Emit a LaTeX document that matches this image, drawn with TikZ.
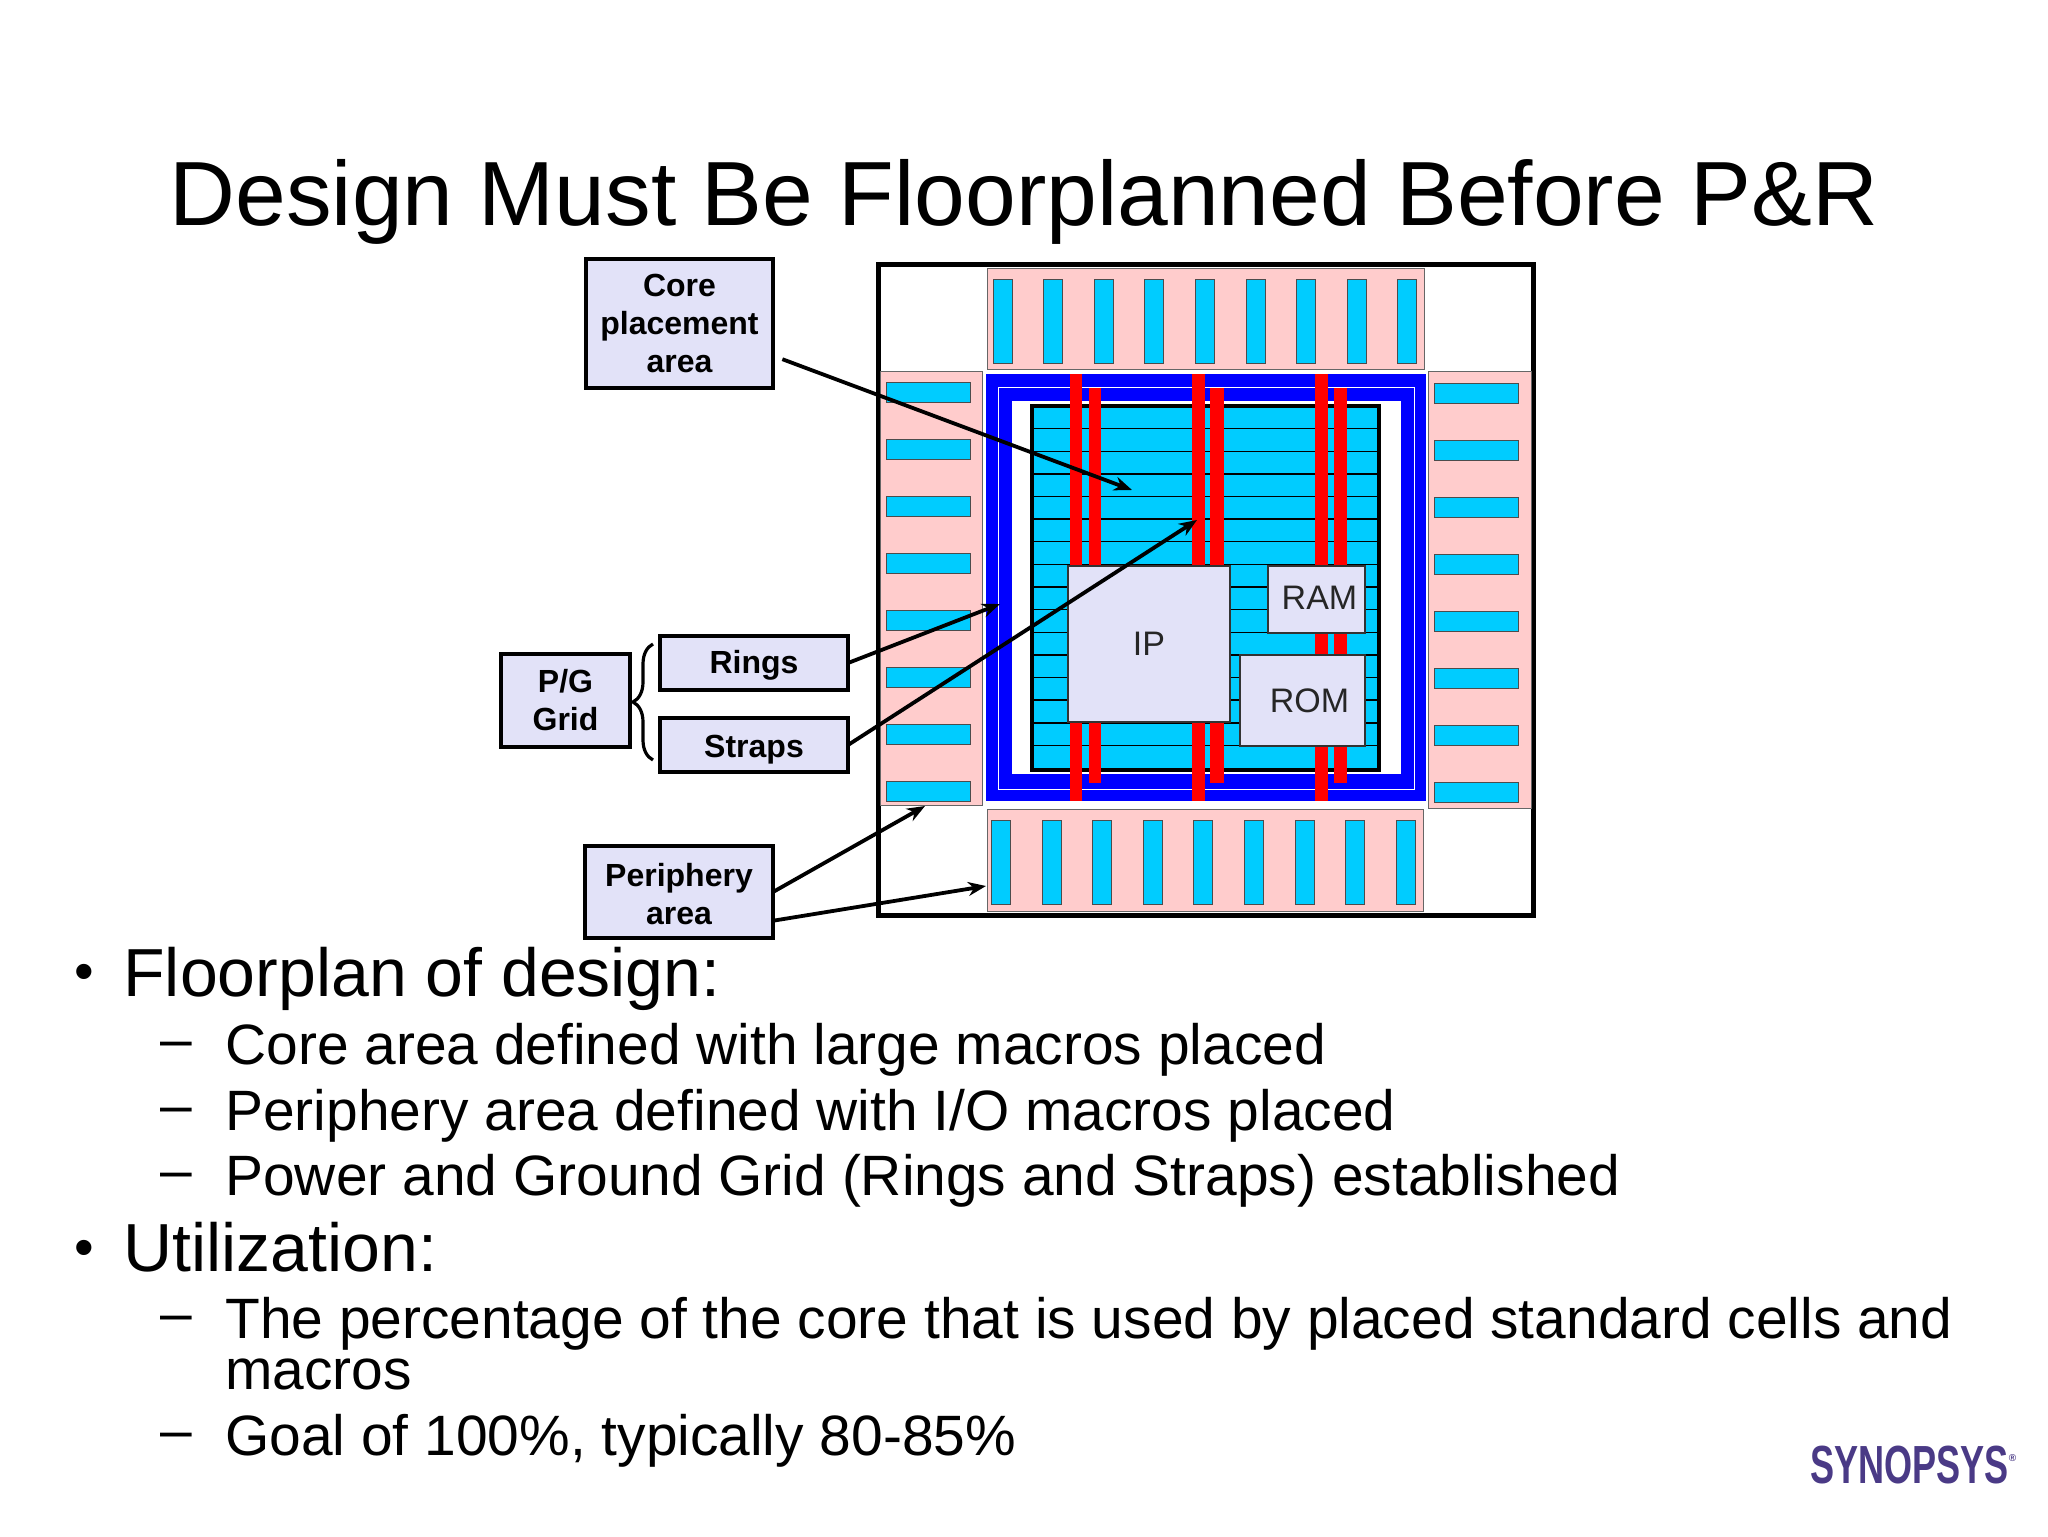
\documentclass[tikz,border=0pt]{standalone}
\usepackage{fontspec}
\setmainfont{Liberation Sans}
\usetikzlibrary{arrows.meta,decorations.pathreplacing}
\definecolor{padpink}{HTML}{FFCCCC}
\definecolor{padcyan}{HTML}{00CCFF}
\definecolor{boxlav}{HTML}{E2E2F8}
\definecolor{logopurple}{HTML}{4A3A86}

\begin{document}
\begin{tikzpicture}
      [%%%%%%%%%%%%%%%%%%%%%%%%%%%%%%
      x=0.5pt,y=-0.5pt,
      zone/.style={draw=black!60,fill=padpink,line width=0.5pt},
      padv/.style={rectangle,draw=black!70,fill=padcyan,line width=0.5pt,inner sep=0pt,outer sep=0pt,minimum width=9.5pt,minimum height=42pt},
      padh/.style={rectangle,draw=black!70,fill=padcyan,line width=0.5pt,inner sep=0pt,outer sep=0pt,minimum width=42pt,minimum height=10pt},
      macro/.style={rectangle,draw=black!80,fill=boxlav,line width=0.7pt,inner sep=0pt,outer sep=0pt,text=black!85,font=\fontsize{17}{20}\selectfont},
      callout/.style={rectangle,draw=black,fill=boxlav,line width=1.9pt,inner sep=0pt,outer sep=0pt,align=center,font=\fontsize{16}{19}\selectfont\bfseries},
      pointer/.style={draw=black,line width=1.9pt,-{Stealth[length=9pt,width=7pt]}},
      strap/.style={fill=red},
      headline/.style={anchor=base,inner sep=0pt,font=\fontsize{45.6}{50}\selectfont},
      level1/.style={anchor=base west,inner sep=0pt,font=\fontsize{34}{40}\selectfont},
      level2/.style={anchor=base west,inner sep=0pt,font=\fontsize{28.45}{34}\selectfont},
      mark1/.style={anchor=base west,inner sep=0pt,font=\fontsize{28}{34}\selectfont},
      ]%%%%%%%%%%%%%%%%%%%%%%%%%%%%%%
      \useasboundingbox (0,0) rectangle (2048,1536);
      \fill[white] (0,0) rectangle (2048,1536);

      \node[headline] (title) at (1024,225) {Design Must Be Floorplanned Before P\&R};

      % chip
      \draw[black,line width=2.5pt,fill=white] (878,264) rectangle (1533,915);
      \draw[zone] (987,268) rectangle (1424,369);
      \draw[zone] (987,809) rectangle (1423,911);
      \draw[zone] (880,371) rectangle (982,805);
      \draw[zone] (1428,371) rectangle (1531,808);

      % top pads
      \node[padv] (top0) at (1002.5+50.6*0,321){};
      \node[padv] (top1) at (1002.5+50.6*1,321){};
      \node[padv] (top2) at (1002.5+50.6*2,321){};
      \node[padv] (top3) at (1002.5+50.6*3,321){};
      \node[padv] (top4) at (1002.5+50.6*4,321){};
      \node[padv] (top5) at (1002.5+50.6*5,321){};
      \node[padv] (top6) at (1002.5+50.6*6,321){};
      \node[padv] (top7) at (1002.5+50.6*7,321){};
      \node[padv] (top8) at (1002.5+50.6*8,321){};
      % bottom pads
      \node[padv] (bot0) at (1001+50.6*0,862){};
      \node[padv] (bot1) at (1001+50.6*1,862){};
      \node[padv] (bot2) at (1001+50.6*2,862){};
      \node[padv] (bot3) at (1001+50.6*3,862){};
      \node[padv] (bot4) at (1001+50.6*4,862){};
      \node[padv] (bot5) at (1001+50.6*5,862){};
      \node[padv] (bot6) at (1001+50.6*6,862){};
      \node[padv] (bot7) at (1001+50.6*7,862){};
      \node[padv] (bot8) at (1001+50.6*8,862){};
      % left pads
      \node[padh] (lef0) at (928,392+57*0){};
      \node[padh] (lef1) at (928,392+57*1){};
      \node[padh] (lef2) at (928,392+57*2){};
      \node[padh] (lef3) at (928,392+57*3){};
      \node[padh] (lef4) at (928,392+57*4){};
      \node[padh] (lef5) at (928,392+57*5){};
      \node[padh] (lef6) at (928,392+57*6){};
      \node[padh] (lef7) at (928,392+57*7){};
      % right pads
      \node[padh] (rig0) at (1476.5,393+57*0){};
      \node[padh] (rig1) at (1476.5,393+57*1){};
      \node[padh] (rig2) at (1476.5,393+57*2){};
      \node[padh] (rig3) at (1476.5,393+57*3){};
      \node[padh] (rig4) at (1476.5,393+57*4){};
      \node[padh] (rig5) at (1476.5,393+57*5){};
      \node[padh] (rig6) at (1476.5,393+57*6){};
      \node[padh] (rig7) at (1476.5,393+57*7){};

      % rings
      \fill[blue] (986,374) rectangle (1426,801);
      \draw[white,line width=0.5pt] (998,387) rectangle (1414,789);
      \fill[white] (1012,401) rectangle (1401,774);

      % core rows
      \fill[padcyan] (1032,406) rectangle (1379,770);
      \draw[black,line width=0.7pt] (1032,428.6+22.63*0) -- (1379,428.6+22.63*0);
      \draw[black,line width=0.7pt] (1032,428.6+22.63*1) -- (1379,428.6+22.63*1);
      \draw[black,line width=0.7pt] (1032,428.6+22.63*2) -- (1379,428.6+22.63*2);
      \draw[black,line width=0.7pt] (1032,428.6+22.63*3) -- (1379,428.6+22.63*3);
      \draw[black,line width=0.7pt] (1032,428.6+22.63*4) -- (1379,428.6+22.63*4);
      \draw[black,line width=0.7pt] (1032,428.6+22.63*5) -- (1379,428.6+22.63*5);
      \draw[black,line width=0.7pt] (1032,428.6+22.63*6) -- (1379,428.6+22.63*6);
      \draw[black,line width=0.7pt] (1032,428.6+22.63*7) -- (1379,428.6+22.63*7);
      \draw[black,line width=0.7pt] (1032,428.6+22.63*8) -- (1379,428.6+22.63*8);
      \draw[black,line width=0.7pt] (1032,428.6+22.63*9) -- (1379,428.6+22.63*9);
      \draw[black,line width=0.7pt] (1032,428.6+22.63*10) -- (1379,428.6+22.63*10);
      \draw[black,line width=0.7pt] (1032,428.6+22.63*11) -- (1379,428.6+22.63*11);
      \draw[black,line width=0.7pt] (1032,428.6+22.63*12) -- (1379,428.6+22.63*12);
      \draw[black,line width=0.7pt] (1032,428.6+22.63*13) -- (1379,428.6+22.63*13);
      \draw[black,line width=0.7pt] (1032,428.6+22.63*14) -- (1379,428.6+22.63*14);
      \draw[black,line width=2.4pt] (1032,406) rectangle (1379,770);

      % straps
      \fill[strap] (1070,374) rectangle (1082,801);
      \fill[strap] (1192,374) rectangle (1205,801);
      \fill[strap] (1315,374) rectangle (1328,801);
      \fill[strap] (1089,388) rectangle (1101,783);
      \fill[strap] (1210,388) rectangle (1224,783);
      \fill[strap] (1334,388) rectangle (1347,783);

      % macros
      \node[macro,minimum width=81pt,minimum height=78pt] (ip) at (1149,644) {IP};
      \node[macro,minimum width=48.5pt,minimum height=33.5pt] (ram) at (1316.5,599.5) {\hspace*{3pt}\raisebox{1.3pt}{RAM}};
      \node[macro,minimum width=62.5pt,minimum height=45.5pt] (rom) at (1302.5,700.5) {\hspace*{7pt}ROM};

      % callouts
      \node[callout,minimum width=93.5pt,minimum height=64.5pt] (corearea) at (679.5,323.5) {Core\\placement\\area};
      \node[callout,minimum width=94pt,minimum height=27pt,text height=10.6pt,text depth=0pt] (rings) at (754,663) {Rings};
      \node[callout,minimum width=94pt,minimum height=27pt,text height=12.2pt,text depth=0pt] (straps) at (754,745) {Straps};
      \node[callout,minimum width=64.5pt,minimum height=46.5pt] (pggrid) at (565.5,700.5) {P/G\\Grid};
      \node[callout,minimum width=94pt,minimum height=46pt] (periph) at (679,892) {\rule{0pt}{14pt}Periphery\\area};

      \coordinate (bracetop) at (653,644);
      \coordinate (bracebot) at (653,760);
      \draw[black,line width=1.6pt,decorate,decoration={brace,amplitude=10pt}] (bracebot) -- (bracetop);

      \coordinate (coretip) at (1132,490);
      \coordinate (ringtip) at (1000,604);
      \coordinate (straptip) at (1197,520);
      \coordinate (lefttip) at (925,806);
      \coordinate (bottip) at (986,886);
      \draw[pointer,shorten <=5pt] (corearea.-19) -- (coretip);
      \draw[pointer] (rings.east) -- (ringtip);
      \draw[pointer] (straps.east) -- (straptip);
      \draw[pointer] (periph.east) -- (lefttip);
      \draw[pointer] (periph.-17) -- (bottip);

      % bullets
      \node[mark1] (b1) at (74,990) {•};
      \node[level1] (t1) at (123,996) {Floorplan of design:};
      \node[level2] (d1) at (160,1058) {–};
      \node[level2] (s1) at (225,1064) {Core area defined with large macros placed};
      \node[level2] (d2) at (160,1124) {–};
      \node[level2] (s2) at (225,1130) {Periphery area defined with I/O macros placed};
      \node[level2] (d3) at (160,1189) {–};
      \node[level2] (s3) at (225,1195) {Power and Ground Grid (Rings and Straps) established};
      \node[mark1] (b2) at (74,1266) {•};
      \node[level1] (t2) at (123,1271) {Utilization:};
      \node[level2] (d4) at (160,1332) {–};
      \node[level2] (s4) at (225,1338) {The percentage of the core that is used by placed standard cells and};
      \node[level2] (s5) at (225,1389) {macros};
      \node[level2] (d5) at (160,1449) {–};
      \node[level2] (s6) at (225,1455) {Goal of 100\%, typically 80-85\%};

      % logo
      \node[anchor=base west,inner sep=0pt,text=logopurple,font=\fontsize{22}{24}\selectfont\bfseries] (logo) at (1810,1483) {\scalebox{0.82}[1.22]{SYNOPSYS}\raisebox{11pt}{\fontsize{5}{6}\selectfont ®}};
    \end{tikzpicture}
\end{document}
